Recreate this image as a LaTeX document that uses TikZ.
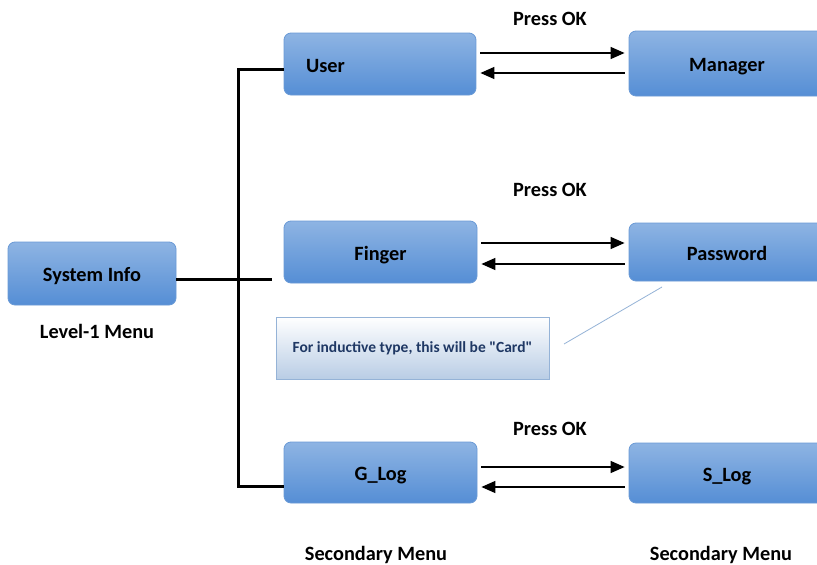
\documentclass[tikz,border=0pt]{standalone}
\usepackage{fontspec}
\setmainfont{Carlito}
\newfontfamily\notefont{Carlito}[Ligatures=TeXOff]
\usetikzlibrary{calc,arrows.meta}
\definecolor{boxtop}{HTML}{8EB4E3}
\definecolor{boxbot}{HTML}{558ED5}
\definecolor{boxline}{HTML}{6A9AD6}
\definecolor{notetop}{HTML}{FFFFFF}
\definecolor{notebot}{HTML}{B9CDE5}
\definecolor{noteline}{HTML}{95B3D7}
\definecolor{notetext}{HTML}{1F3864}
\tikzset{
  menubox/.style={draw=boxline, line width=0.8pt, rounded corners=7pt,
    top color=boxtop, bottom color=boxbot, font=\fontsize{20.3}{23}\selectfont\bfseries,
    text=black, inner sep=0pt, text height=16pt, text depth=0pt},
  caption/.style={font=\fontsize{20.3}{23}\selectfont\bfseries, text=black, inner sep=0pt},
  notebox/.style={draw=noteline, line width=0.8pt, top color=notetop, bottom color=notebot,
    font=\notefont\fontsize{15.5}{18}\selectfont\bfseries, text=notetext, inner sep=0pt},
  trunk/.style={line width=3pt, black},
  flow/.style={line width=1.4pt, black, -{Triangle[length=14pt,width=12pt]}},
}
\begin{document}
\begin{tikzpicture}[x=1pt,y=-1pt]
\clip (0,0) rectangle (817,565);
\fill[white] (0,0) rectangle (817,565);
% boxes
\node[menubox, minimum width=168pt, minimum height=63pt] (sys) at (92,273.5) {System Info};
\node[menubox, minimum width=192pt, minimum height=62pt, text width=148pt, align=left, inner xsep=22pt] (user) at (380,64) {User};
\node[menubox, minimum width=193pt, minimum height=62pt] (finger) at (380.5,252) {Finger};
\node[menubox, minimum width=193pt, minimum height=61pt] (glog) at (380.5,472.5) {G\_Log};
\node[menubox, minimum width=196pt, minimum height=65pt] (manager) at (727,63.5) {Manager};
\node[menubox, minimum width=196pt, minimum height=58pt] (password) at (727,252) {Password};
\node[menubox, minimum width=196pt, minimum height=60pt] (slog) at (727,473) {S\_Log};
% note
\node[notebox, minimum width=273pt, minimum height=62pt] (note) at (412.5,348) {For inductive type, this will be "Card"};
\coordinate (callA) at (564,344);
\coordinate (callB) at (662,287);
\draw[noteline, line width=0.8pt] (callA) -- (callB);
% captions
\node[caption] (lvl) at (97,331) {Level-1 Menu};
\node[caption] (ok1) at (550,19) {Press OK};
\node[caption] (ok2) at (550,190) {Press OK};
\node[caption] (ok3) at (550,429) {Press OK};
\node[caption] (sec1) at (376,555) {Secondary Menu};
\node[caption] (sec2) at (721,555) {Secondary Menu};
% trunk
\coordinate (jtop) at (238,69);
\coordinate (jbot) at (238,486);
\coordinate (jmid) at (272,279);
\draw[trunk, line cap=butt] (user.west |- jtop) -- (jtop) -- (jbot) -- (glog.west |- jbot);
\draw[trunk] (sys.east |- jmid) -- (jmid);
% arrows
\draw[flow] ($(user.east)+(4,-11)$) -- ($(manager.west)+(-4,-10.5)$);
\draw[flow] ($(manager.west)+(-4,9.5)$) -- ($(user.east)+(4,9)$);
\draw[flow] ($(finger.east)+(4,-9)$) -- ($(password.west)+(-4,-9)$);
\draw[flow] ($(password.west)+(-4,12)$) -- ($(finger.east)+(4,12)$);
\draw[flow] ($(glog.east)+(4,-5.5)$) -- ($(slog.west)+(-4,-6)$);
\draw[flow] ($(slog.west)+(-4,14)$) -- ($(glog.east)+(4,14.5)$);
\end{tikzpicture}
\end{document}
